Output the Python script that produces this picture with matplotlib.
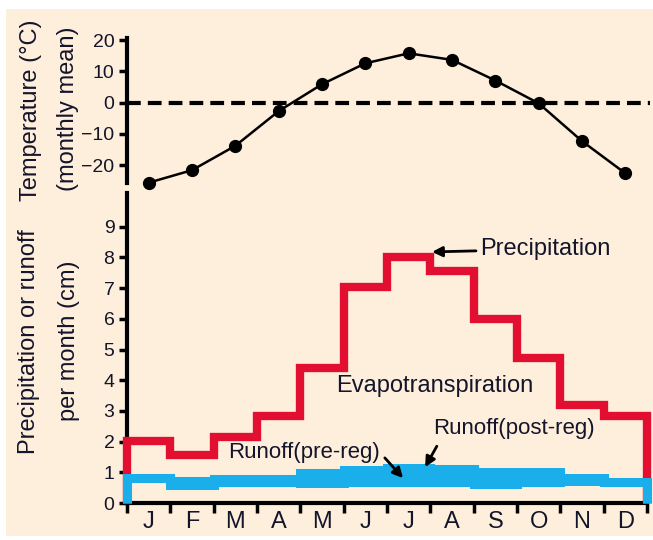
import matplotlib
matplotlib.use("Agg")
import matplotlib.pyplot as plt
import numpy as np
from matplotlib.patches import Rectangle

months = ["J", "F", "M", "A", "M", "J", "J", "A", "S", "O", "N", "D"]
temperature = [-25.6, -21.6, -13.8, -2.7, 5.9, 12.6, 15.8, 13.7, 7.1, -0.2, -12.3, -22.6]
precipitation = [2.02, 1.56, 2.15, 2.85, 4.41, 7.04, 8.0, 7.56, 6.0, 4.74, 3.19, 2.85]
runoff_post = [0.80, 0.72, 0.78, 0.78, 0.99, 1.08, 1.15, 1.10, 1.00, 1.00, 0.83, 0.70]
runoff_pre = [0.80, 0.59, 0.70, 0.70, 0.66, 0.67, 0.67, 0.67, 0.62, 0.70, 0.72, 0.68]
temp_ticks = [-20, -10, 0, 10, 20]
precip_ticks = list(range(0, 10))

plt.rcParams['font.family'] = ['Liberation Sans', 'DejaVu Sans']
TXT = '#14142a'
RED = '#e20f30'
BLUE = '#1aaeea'
CREAM = '#fdefdb'

W, H = 653, 540
fig = plt.figure(figsize=(W / 100, H / 100), dpi=100, facecolor='white')
fig.patches.append(Rectangle((6 / W, 0.008), 1 - 6 / W, 1 - 9 / H - 0.008,
                             transform=fig.transFigure, facecolor=CREAM,
                             edgecolor='none', zorder=-10))

L = 127 / W
R = 647 / W
edges = np.arange(13)
centers = edges[:-1] + 0.5

# ---------- top: temperature ----------
axT = fig.add_axes([L, 1 - 183 / H, R - L, (183 - 38) / H])
axT.set_facecolor('none')
axT.set_xlim(0, 12)
axT.set_ylim(-25.7, 20.7)
axT.axhline(0, color='black', lw=3, dashes=(3.3, 1.7), xmax=1.005, clip_on=False)
axT.plot(centers, temperature, color='black', lw=1.8, marker='o', ms=8.5,
         clip_on=False, zorder=5)
for s in ['top', 'right', 'bottom']:
    axT.spines[s].set_visible(False)
axT.spines['left'].set_linewidth(3)
axT.set_xticks([])
axT.set_yticks(temp_ticks)
axT.tick_params(axis='y', length=6, width=2.5, labelsize=14, labelcolor=TXT, pad=3)

# ---------- bottom: precipitation & runoff ----------
axB = fig.add_axes([L, 1 - 503 / H, R - L, (503 - 193) / H])
axB.set_facecolor('none')
axB.set_xlim(0, 12)
axB.set_ylim(0, 10.1)
axB.stairs(precipitation, edges, baseline=0, fill=False, color=RED, lw=6,
           joinstyle='miter', capstyle='butt', clip_on=False, zorder=3)
pre_ext = list(runoff_pre) + [runoff_pre[-1]]
post_ext = list(runoff_post) + [runoff_post[-1]]
axB.fill_between(edges, pre_ext, post_ext, step='post', color=BLUE, lw=0,
                 zorder=4)
axB.stairs(runoff_pre, edges, baseline=0, fill=False, color=BLUE, lw=6.5,
           joinstyle='miter', capstyle='butt', clip_on=False, zorder=4)
axB.stairs(runoff_post, edges, baseline=0, fill=False, color=BLUE, lw=6.5,
           joinstyle='miter', capstyle='butt', clip_on=False, zorder=4)
for s in ['top', 'right']:
    axB.spines[s].set_visible(False)
axB.spines['left'].set_linewidth(3)
axB.spines['bottom'].set_linewidth(3)
axB.set_yticks(precip_ticks)
axB.set_xticks(edges)
axB.set_xticklabels([])
axB.set_xticks(centers, minor=True)
axB.set_xticklabels(months, minor=True)
axB.tick_params(axis='x', which='major', length=7, width=2.5, direction='out')
axB.tick_params(axis='x', which='minor', length=0, labelsize=17, labelcolor=TXT, pad=6)
axB.tick_params(axis='y', length=6, width=2.5, labelsize=14, labelcolor=TXT, pad=3)

# annotations
arrow_kw = dict(arrowstyle='-|>', color='black', lw=2, mutation_scale=15,
                shrinkA=0, shrinkB=0)
axB.annotate("Precipitation", xy=(7.04, 8.18), xytext=(8.15, 8.27),
             fontsize=17, color=TXT, va='center', ha='left', zorder=6,
             arrowprops=dict(arrow_kw, shrinkA=1))
axB.text(7.1, 3.81, "Evapotranspiration", fontsize=17, color=TXT,
         ha='center', va='center')
axB.text(7.06, 2.44, "Runoff(post-reg)", fontsize=16, color=TXT,
         ha='left', va='center')
axB.annotate("", xy=(6.88, 1.17), xytext=(7.15, 1.85), zorder=6,
             arrowprops=arrow_kw)
axB.text(2.33, 1.66, "Runoff(pre-reg)", fontsize=16, color=TXT,
         ha='left', va='center')
axB.annotate("", xy=(6.37, 0.81), xytext=(5.95, 1.47), zorder=6,
             arrowprops=arrow_kw)

# axis labels
fig.text(31 / W, 1 - 110 / H, "Temperature (°C)", rotation=90, fontsize=17,
         color=TXT, ha='center', va='center')
fig.text(68 / W, 1 - 109 / H, "(monthly mean)", rotation=90, fontsize=17,
         color=TXT, ha='center', va='center')
fig.text(29 / W, 1 - 342 / H, "Precipitation or runoff", rotation=90, fontsize=17,
         color=TXT, ha='center', va='center')
fig.text(69 / W, 1 - 341 / H, "per month (cm)", rotation=90, fontsize=17,
         color=TXT, ha='center', va='center')

fig.savefig("out.png", dpi=100, facecolor='white')
